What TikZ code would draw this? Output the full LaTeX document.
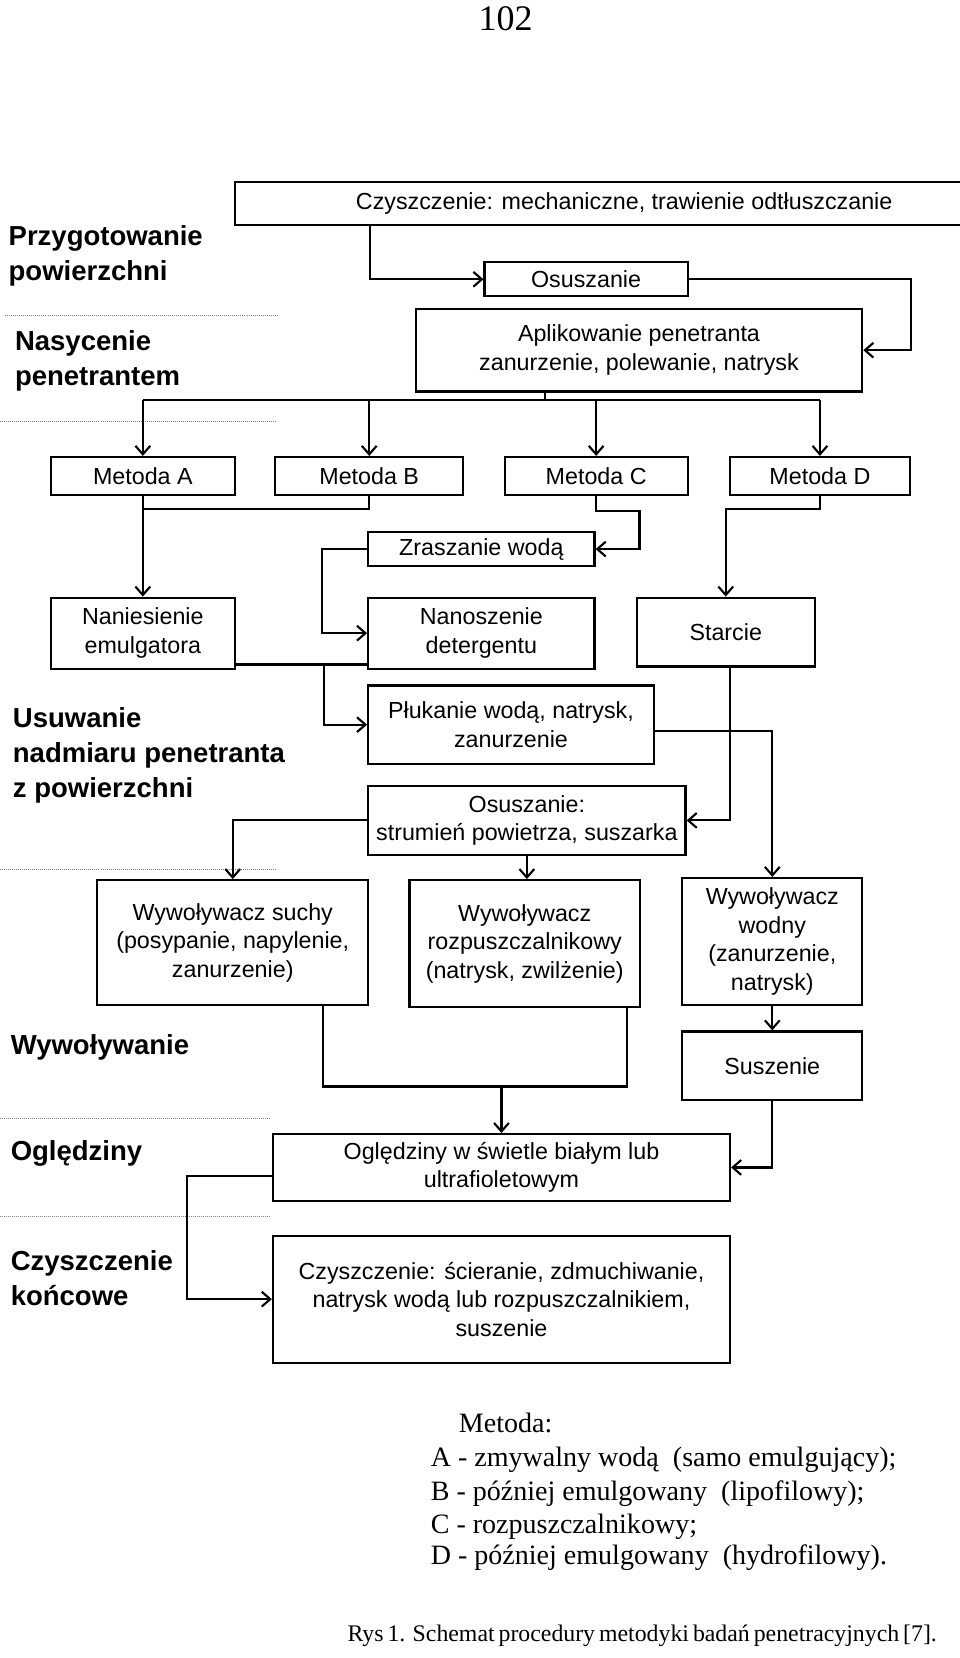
\documentclass[tikz,border=0pt]{standalone}
\usepackage{fontspec}
\setmainfont{Liberation Serif}
\setsansfont{Liberation Sans}
\usetikzlibrary{arrows.meta}
\begin{document}
\begin{tikzpicture}[x=1pt,y=-1pt,
  box/.style={draw, line width=2.1pt, inner sep=0pt, align=center,
    font=\sffamily\fontsize{22}{27}\selectfont},
  lab/.style={anchor=west, align=left, inner sep=0pt,
    font=\sffamily\bfseries\fontsize{26}{33}\selectfont},
  ln/.style={line width=2pt},
  arr/.style={line width=2pt, -{Straight Barb[length=8pt,width=14pt,line width=2pt]}},
  sep/.style={gray, densely dotted, line width=0.9pt},
  serif/.style={inner sep=0pt, font=\rmfamily\fontsize{26.5}{31}\selectfont}]
\useasboundingbox (0,0) rectangle (907.4,1567.2);

\node[inner sep=0pt, font=\rmfamily\fontsize{34}{40}\selectfont] (pg) at (478,18) {102};

% left labels
\node[lab] (l1) at (8,241.5) {Przygotowanie\\powierzchni};
\node[lab] (l2) at (14,341) {Nasycenie\\penetrantem};
\node[lab] (l3) at (12,714) {Usuwanie\\nadmiaru penetranta\\z powierzchni};
\node[lab] (l4) at (10,990) {Wywoływanie};
\node[lab] (l5) at (10,1090) {Oględziny};
\node[lab] (l6) at (10,1208.5) {Czyszczenie\\końcowe};

\draw[sep] (5,298) -- (262,298);
\draw[sep] (0,398) -- (262,398);
\draw[sep] (0,822) -- (262,822);
\draw[sep] (0,1057) -- (255,1057);
\draw[sep] (0,1150) -- (255,1150);

% boxes
\node[box,minimum width=736pt,minimum height=41pt] (c1) at (590,192.5) {Czyszczenie: mechaniczne, trawienie odtłuszczanie};
\node[box,minimum width=192pt,minimum height=32pt] (os1) at (554,264) {Osuszanie};
\node[box,minimum width=422pt,minimum height=78pt] (apl) at (604,331) {Aplikowanie penetranta\\zanurzenie, polewanie, natrysk};
\node[box,minimum width=174pt,minimum height=36pt] (mA) at (135,450) {Metoda A};
\node[box,minimum width=178pt,minimum height=36pt] (mB) at (349,450) {Metoda B};
\node[box,minimum width=173pt,minimum height=36pt] (mC) at (563.5,450) {Metoda C};
\node[box,minimum width=170pt,minimum height=36pt] (mD) at (775,450) {Metoda D};
\node[box,minimum width=214pt,minimum height=32pt] (zr) at (455,519) {Zraszanie wodą};
\node[box,minimum width=174pt,minimum height=67pt] (nan) at (135,598.5) {Naniesienie\\emulgatora};
\node[box,minimum width=214pt,minimum height=67pt] (nano) at (455,598.5) {Nanoszenie\\detergentu};
\node[box,minimum width=168pt,minimum height=65pt] (sta) at (686,597.5) {Starcie};
\node[box,minimum width=270pt,minimum height=74pt] (plu) at (483,685) {Płukanie wodą, natrysk,\\zanurzenie};
\node[box,minimum width=300pt,minimum height=65pt] (os2) at (498,775.5) {Osuszanie:\\strumień powietrza, suszarka};
\node[box,minimum width=256pt,minimum height=118pt] (wsu) at (220,891) {Wywoływacz suchy\\(posypanie, napylenie,\\zanurzenie)};
\node[box,minimum width=218pt,minimum height=120pt] (wro) at (496,892) {Wywoływacz\\rozpuszczalnikowy\\(natrysk, zwilżenie)};
\node[box,minimum width=170pt,minimum height=120pt] (wwo) at (730,890) {Wywoływacz\\wodny\\(zanurzenie,\\natrysk)};
\node[box,minimum width=170pt,minimum height=65pt] (sus) at (730,1007.5) {Suszenie};
\node[box,minimum width=432pt,minimum height=63pt] (ogl) at (474,1103.5) {Oględziny w świetle białym lub\\ultrafioletowym};
\node[box,minimum width=432pt,minimum height=120pt] (czk) at (474,1228) {Czyszczenie: ścieranie, zdmuchiwanie,\\natrysk wodą lub rozpuszczalnikiem,\\suszenie};

% connectors
\draw[arr] ([xshift=-240pt]c1.south) |- (os1.west);
\draw[arr] (os1.east) -- ++(210,0) |- (apl.east);
\coordinate (bus) at (515,378);
\draw[ln] (apl.south -| bus) -- (bus);
\draw[ln] (bus -| mA.north) -- (bus -| mD.north);
\foreach \n in {mA,mB,mC,mD} \draw[arr] (bus -| \n.north) -- (\n.north);
\draw[ln] (mB.south) |- ([yshift=-12pt]mA.south);
\draw[arr] (mA.south) -- (nan.north);
\draw[arr] (mC.south) -- ++(0,14) -- ++(41,0) |- (zr.east);
\draw[arr] (mD.south) -- ++(0,12) -| (sta.north);
\draw[arr] (zr.west) -- ++(-43,0) |- (nano.west);
\draw[ln] ([yshift=5pt]nan.south east) -- ([yshift=5pt]nano.south west);
\draw[arr] ([yshift=5pt]nan.south east) ++(83,0) |- (plu.west);
\draw[arr] ([xshift=4pt]sta.south) |- (os2.east);
\draw[arr] ([yshift=-6pt]plu.east) -| (wwo.north);
\draw[arr] (os2.west) -| (wsu.north);
\draw[arr] (os2.south) -- (os2.south |- wro.north);
\coordinate (j2) at (305,1027);
\coordinate (j3) at (593,1027);
\draw[ln] (wsu.south -| j2) -- (j2) -- (j3) -- (wro.south -| j3);
\draw[arr] (ogl.north |- j2) -- (ogl.north);
\draw[arr] (wwo.south) -- (sus.north);
\draw[arr] (sus.south) |- (ogl.east);
\draw[arr] ([yshift=-8pt]ogl.west) -- ++(-80,0) |- (czk.west);

% legend
\node[serif] (lg0) at (478,1345) {Metoda:};
\node[serif,anchor=west] (lg1) at (407,1380) {A - zmywalny wodą~ (samo emulgujący);};
\node[serif,anchor=west] (lg2) at (407,1412) {B - później emulgowany~ (lipofilowy);};
\node[serif,anchor=west] (lg3) at (407,1443) {C - rozpuszczalnikowy;};
\node[serif,anchor=west] (lg4) at (407,1472) {D - później emulgowany~ (hydrofilowy).};
\node[serif,font=\rmfamily\fontsize{22.5}{26}\selectfont] (cap) at (601,1546) {\makebox[545pt][s]{Rys 1. Schemat procedury metodyki badań penetracyjnych [7].}};
\end{tikzpicture}
\end{document}
